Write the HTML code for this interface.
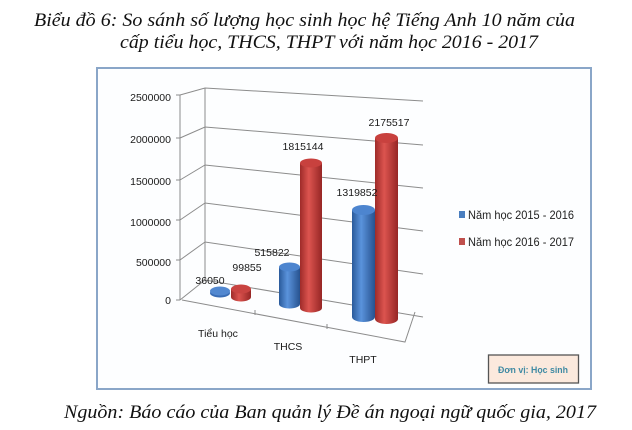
<!DOCTYPE html>
<html><head><meta charset="utf-8"><style>
html,body{margin:0;padding:0;background:#fff;width:632px;height:430px;overflow:hidden}
svg{display:block}
.t{font-family:"Liberation Serif",serif;font-style:italic;font-size:18.5px;fill:#111}
.a{font-family:"Liberation Sans",sans-serif;font-size:10.5px;fill:#1a1a1a}
.l{font-family:"Liberation Sans",sans-serif;font-size:12px;fill:#222}
</style></head><body>
<svg width="632" height="430" viewBox="0 0 632 430" xmlns="http://www.w3.org/2000/svg">
<defs>
<linearGradient id="gb" x1="0" x2="1" y1="0" y2="0">
<stop offset="0" stop-color="#2a5a9a"/><stop offset="0.4" stop-color="#5a93dc"/><stop offset="1" stop-color="#27528f"/></linearGradient>
<linearGradient id="gr" x1="0" x2="1" y1="0" y2="0">
<stop offset="0" stop-color="#9e2b29"/><stop offset="0.4" stop-color="#dc544f"/><stop offset="1" stop-color="#962625"/></linearGradient>
</defs>
<text class="t" x="34" y="26" textLength="541" lengthAdjust="spacingAndGlyphs">Biểu đồ 6: So sánh số lượng học sinh học hệ Tiếng Anh 10 năm của</text>
<text class="t" x="120" y="48" textLength="418" lengthAdjust="spacingAndGlyphs">cấp tiểu học, THCS, THPT với năm học 2016 - 2017</text>
<rect x="97" y="68" width="494" height="321" fill="#fdfeff" stroke="#8aa6c8" stroke-width="2"/>
<g stroke="#8c8c8c" stroke-width="1" fill="none">
<polyline points="180,95 205,88 423,101"/>
<polyline points="180,138 205,127 423,145"/>
<polyline points="180,180 205,165 423,188"/>
<polyline points="180,220 205,203 423,231"/>
<polyline points="180,260 205,242 423,274"/>
<polyline points="180,300 205,280 423,317"/>
<line x1="180" y1="95" x2="180" y2="300"/>
<line x1="205" y1="88" x2="205" y2="280"/>
<polyline points="182,300 405,342 415,312"/>
<line x1="255" y1="310" x2="255" y2="315"/>
<line x1="327" y1="324" x2="327" y2="329"/>
<line x1="176" y1="95" x2="180" y2="95"/><line x1="176" y1="138" x2="180" y2="138"/>
<line x1="176" y1="180" x2="180" y2="180"/><line x1="176" y1="220" x2="180" y2="220"/>
<line x1="176" y1="260" x2="180" y2="260"/><line x1="176" y1="300" x2="180" y2="300"/>
</g>
<g class="a" text-anchor="end">
<text x="171" y="101">2500000</text><text x="171" y="143">2000000</text>
<text x="171" y="185">1500000</text><text x="171" y="226">1000000</text>
<text x="171" y="266">500000</text><text x="171" y="304">0</text>
</g>
<g>
<ellipse cx="220" cy="293" rx="10" ry="4.5" fill="#3a6db5"/>
<ellipse cx="220" cy="291" rx="10" ry="4.5" fill="#5288d0"/>
<path d="M231,289 v8 a10,4.5 0 0 0 20,0 v-8z" fill="url(#gr)"/>
<ellipse cx="241" cy="289" rx="10" ry="4.5" fill="#c94441"/>
<path d="M279,267 V304 a10.5,4.5 0 0 0 21,0 V267z" fill="url(#gb)"/>
<ellipse cx="289.5" cy="267" rx="10.5" ry="4.5" fill="#4d85cf"/>
<path d="M300,163 V308 a11,4.5 0 0 0 22,0 V163z" fill="url(#gr)"/>
<ellipse cx="311" cy="163" rx="11" ry="4.5" fill="#c8413e"/>
<path d="M352,210 V317 a11.5,5 0 0 0 23,0 V210z" fill="url(#gb)"/>
<ellipse cx="363.5" cy="210" rx="11.5" ry="5" fill="#4d85cf"/>
<path d="M375,138 V319 a11.5,5 0 0 0 23,0 V138z" fill="url(#gr)"/>
<ellipse cx="386.5" cy="138" rx="11.5" ry="5" fill="#c8413e"/>
</g>
<g class="a" text-anchor="middle">
<text x="210" y="284">36050</text><text x="247" y="271">99855</text>
<text x="272" y="256">515822</text><text x="303" y="150">1815144</text>
<text x="357" y="196">1319852</text><text x="389" y="126">2175517</text>
<text x="218" y="337">Tiểu học</text><text x="288" y="350">THCS</text><text x="363" y="363">THPT</text>
</g>
<rect x="459" y="211" width="6" height="7" fill="#4a7ebf"/>
<text class="l" x="468" y="219" textLength="106" lengthAdjust="spacingAndGlyphs">Năm học 2015 - 2016</text>
<rect x="459" y="238" width="6" height="7" fill="#c0504d"/>
<text class="l" x="468" y="246" textLength="106" lengthAdjust="spacingAndGlyphs">Năm học 2016 - 2017</text>
<rect x="488.5" y="355" width="90" height="28" fill="#fbe9dd" stroke="#555" stroke-width="1.3"/>
<text x="533" y="373" text-anchor="middle" font-family="Liberation Sans,sans-serif" font-size="9.5" font-weight="bold" fill="#3f8aa3" textLength="70" lengthAdjust="spacingAndGlyphs">Đơn vị: Học sinh</text>
<text class="t" x="64" y="418" textLength="532" lengthAdjust="spacingAndGlyphs">Nguồn: Báo cáo của Ban quản lý Đề án ngoại ngữ quốc gia, 2017</text>
</svg>
</body></html>
